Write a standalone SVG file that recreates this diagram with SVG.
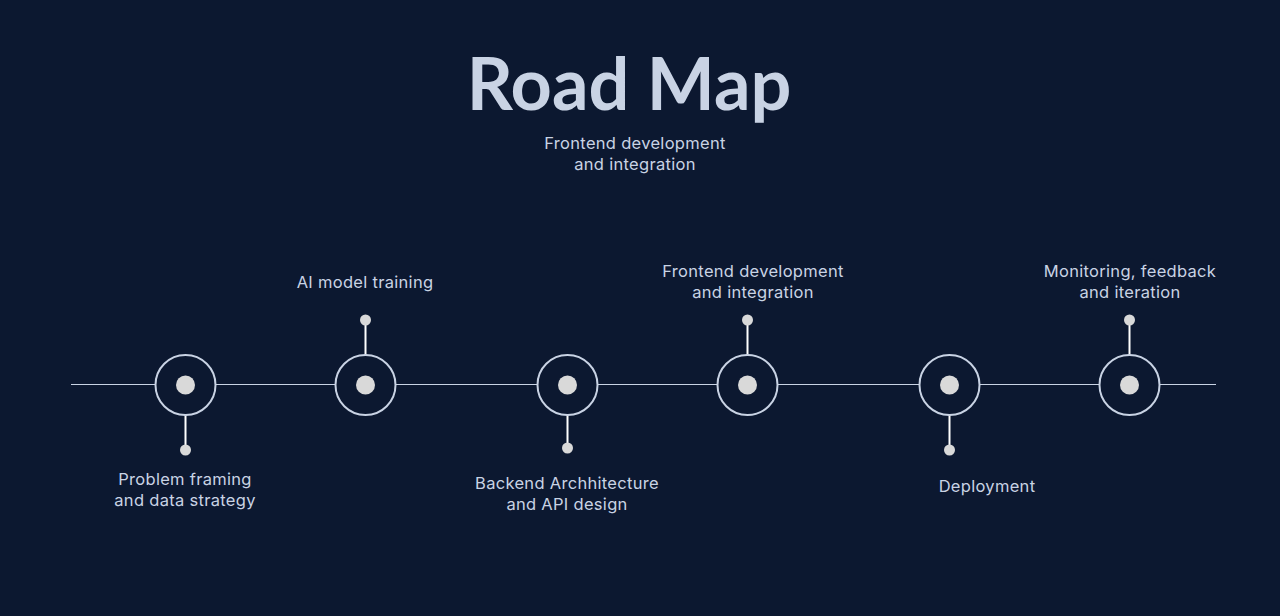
<svg xmlns="http://www.w3.org/2000/svg" width="1280" height="616" viewBox="0 0 1280 616">
<style>
.t{font-family:Inter,"Noto Sans",sans-serif;font-size:16.5px;letter-spacing:0.3px;fill:#c9d3e4;text-anchor:middle}
.title{font-family:Lato,"Noto Sans",sans-serif;font-weight:700;font-size:72px;fill:#c9d3e4;text-anchor:middle}
.ring{fill:#0c1830;stroke:#c9d3e4;stroke-width:2}
.core{fill:#d9d9d9}
.stem{stroke:#ffffff;stroke-width:2}
.tip{fill:#d9d9d9}
</style>
<rect width="1280" height="616" fill="#0c1830"/>
<text class="title" x="629" y="110">Road Map</text>
<text class="t" x="635" y="149">Frontend development</text>
<text class="t" x="635" y="170">and integration</text>
<g id="connectors">
<line x1="71" y1="384.5" x2="1216" y2="384.5" stroke="#c9d3e4" stroke-width="1.2"/>
<line class="stem" x1="185.5" y1="415" x2="185.5" y2="450"/>
<line class="stem" x1="365.5" y1="320" x2="365.5" y2="355"/>
<line class="stem" x1="567.5" y1="415" x2="567.5" y2="448"/>
<line class="stem" x1="747.5" y1="320" x2="747.5" y2="355"/>
<line class="stem" x1="949.5" y1="415" x2="949.5" y2="450"/>
<line class="stem" x1="1129.5" y1="320" x2="1129.5" y2="355"/>
</g>
<g id="n1">
<circle class="ring" cx="185.5" cy="385" r="30"/>
<circle class="core" cx="185.5" cy="385" r="9.5"/>
<circle class="tip" cx="185.5" cy="450" r="5.5"/>
<text class="t" x="185" y="485">Problem framing</text>
<text class="t" x="185" y="506">and data strategy</text>
</g>
<g id="n2">
<circle class="ring" cx="365.5" cy="385" r="30"/>
<circle class="core" cx="365.5" cy="385" r="9.5"/>
<circle class="tip" cx="365.5" cy="320" r="5.5"/>
<text class="t" x="365" y="288">AI model training</text>
</g>
<g id="n3">
<circle class="ring" cx="567.5" cy="385" r="30"/>
<circle class="core" cx="567.5" cy="385" r="9.5"/>
<circle class="tip" cx="567.5" cy="448" r="5.5"/>
<text class="t" x="567" y="489">Backend Archhitecture</text>
<text class="t" x="567" y="510">and API design</text>
</g>
<g id="n4">
<circle class="ring" cx="747.5" cy="385" r="30"/>
<circle class="core" cx="747.5" cy="385" r="9.5"/>
<circle class="tip" cx="747.5" cy="320" r="5.5"/>
<text class="t" x="753" y="277">Frontend development</text>
<text class="t" x="753" y="298">and integration</text>
</g>
<g id="n5">
<circle class="ring" cx="949.5" cy="385" r="30"/>
<circle class="core" cx="949.5" cy="385" r="9.5"/>
<circle class="tip" cx="949.5" cy="450" r="5.5"/>
<text class="t" x="987" y="492">Deployment</text>
</g>
<g id="n6">
<circle class="ring" cx="1129.5" cy="385" r="30"/>
<circle class="core" cx="1129.5" cy="385" r="9.5"/>
<circle class="tip" cx="1129.5" cy="320" r="5.5"/>
<text class="t" x="1130" y="277">Monitoring, feedback</text>
<text class="t" x="1130" y="298">and iteration</text>
</g>
</svg>
